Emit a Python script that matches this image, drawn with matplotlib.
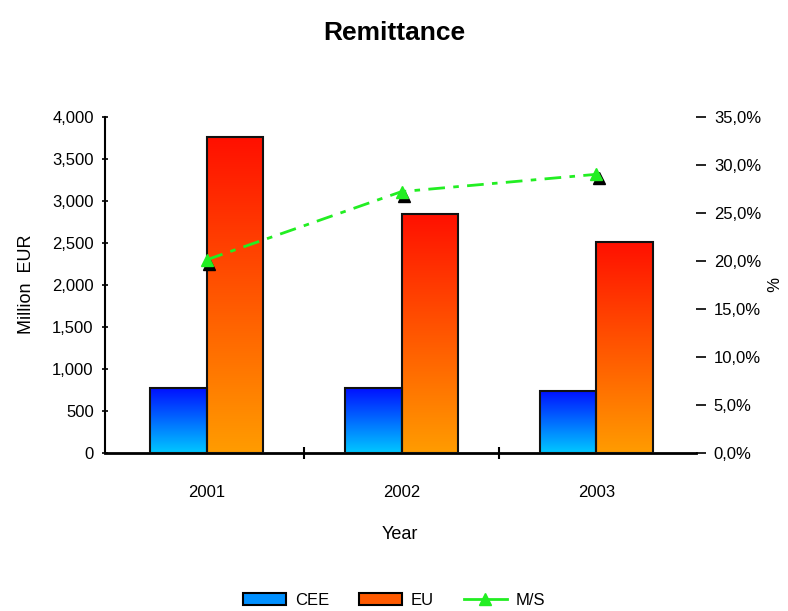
import numpy as np
import matplotlib
matplotlib.use("Agg")
import matplotlib.pyplot as plt
from matplotlib.colors import LinearSegmentedColormap
from matplotlib.patches import Patch
from matplotlib.lines import Line2D
from matplotlib.ticker import FuncFormatter
import matplotlib.transforms as mtransforms

plt.rcParams["font.family"] = ["Liberation Sans", "DejaVu Sans"]

# remittance data, million EUR and share in %
years = ["2001", "2002", "2003"]
cee = [770, 770, 740]
eu = [3760, 2845, 2510]
share = [20.1, 27.2, 29.0]
series_names = ["CEE", "EU", "M/S"]

BAR_W = 0.29

blue_cmap = LinearSegmentedColormap.from_list("blue_grad", ["#00c8ff", "#0010ff"])
orange_cmap = LinearSegmentedColormap.from_list("orange_grad", ["#ff9c00", "#ff1000"])

fig = plt.figure(figsize=(7.88, 6.11), dpi=100)
ax = fig.add_axes([0.133, 0.259, 0.750, 0.550])

x = np.arange(len(years))
grad = np.linspace(0, 1, 256).reshape(-1, 1)


def gradient_bars(xs, heights, cmap):
    for xi, h in zip(xs, heights):
        ax.imshow(grad, extent=[xi, xi + BAR_W, 0, h], origin="lower",
                  aspect="auto", cmap=cmap, zorder=2)
        ax.bar(xi, h, width=BAR_W, align="edge", facecolor="none",
               edgecolor="#111111", linewidth=1.5, zorder=3)


gradient_bars(x - BAR_W, cee, blue_cmap)
gradient_bars(x, eu, orange_cmap)

ax.set_xlim(-0.523, 2.51)
ax.set_ylim(0, 4000)
ax.set_yticks(np.arange(0, 4001, 500))
ax.yaxis.set_major_formatter(FuncFormatter(lambda v, p: f"{int(v):,}"))
ax.set_xticks(x)
ax.set_xticklabels(years)
ax.set_xticks([0.5, 1.5], minor=True)
ax.tick_params(axis="x", which="major", length=0, pad=23, labelsize=12)
ax.tick_params(axis="x", which="minor", length=8, width=1.5, direction="inout")
ax.tick_params(axis="y", length=4, width=1.2, direction="inout", labelsize=12, pad=6)
for side in ["top", "right"]:
    ax.spines[side].set_visible(False)
ax.spines["left"].set_linewidth(1.5)
ax.spines["bottom"].set_linewidth(2)
ax.set_xlabel("Year", fontsize=13, labelpad=19)
ax.set_ylabel("Million  EUR", fontsize=13, labelpad=12)

# share on the secondary axis
ax2 = ax.twinx()
ax2.set_ylim(0, 35)
ax2.set_yticks(np.arange(0, 35.1, 5))
ax2.yaxis.set_major_formatter(FuncFormatter(lambda v, p: f"{v:.1f}%".replace(".", ",")))
ax2.tick_params(axis="y", length=7, width=1.2, direction="out", labelsize=12, pad=6)
for side in ["top", "right", "left", "bottom"]:
    ax2.spines[side].set_visible(False)
ax2.set_ylabel("%", fontsize=12, rotation=270, labelpad=12)

shadow = mtransforms.offset_copy(ax2.transData, fig=fig, x=2, y=-3, units="points")
ax2.plot(x, share, linestyle="none", marker="^", markersize=8,
         color="black", transform=shadow, zorder=4)
ax2.plot(x, share, color="#22ee22", linewidth=2, dashes=(6, 3, 2, 3),
         marker="^", markersize=8, markerfacecolor="#22ee22",
         markeredgecolor="#22ee22", zorder=5)

fig.suptitle("Remittance", fontsize=19, fontweight="bold", x=0.5, y=0.965)

handles = [
    Patch(facecolor="#0090ff", edgecolor="black", linewidth=1.5),
    Patch(facecolor="#ff5a00", edgecolor="black", linewidth=1.5),
    Line2D([0], [0], color="#22ee22", linewidth=2, marker="^", markersize=8),
]
fig.legend(handles, series_names, loc="center", bbox_to_anchor=(0.5, 0.018),
           ncol=3, frameon=False, fontsize=12, handlelength=2.6,
           columnspacing=1.8, handletextpad=0.5)

fig.savefig("out.png", dpi=100)
